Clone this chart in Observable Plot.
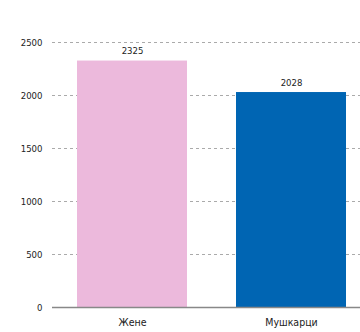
<!DOCTYPE html>
<html><head><meta charset="utf-8">
<script src="https://cdn.jsdelivr.net/npm/d3@7"></script>
<script src="https://cdn.jsdelivr.net/npm/@observablehq/plot@0.6"></script>
<style>body{margin:0;background:#fff}</style>
</head><body><div id="chart"></div>
<script>
const categories = ["Жене", "Мушкарци"];
const values = [2325, 2028];
const colors = ["#ecb9dc", "#0065b3"];
const yTicks = [0, 500, 1000, 1500, 2000, 2500];

const data = categories.map((c, i) => ({cat: c, v: values[i], color: colors[i]}));
const font = "'DejaVu Sans Condensed', 'Liberation Sans Narrow', Arial, sans-serif";

const chart = Plot.plot({
  width: 360, height: 332,
  marginLeft: 52, marginRight: 0, marginTop: 42, marginBottom: 25,
  style: {fontFamily: font, fontSize: "10px", color: "#333", background: "#fff"},
  x: {domain: categories, range: [52, 371], paddingInner: 0.31, paddingOuter: 0.155, align: 0.5, label: null},
  y: {domain: [0, 2500], label: null},
  marks: [
    Plot.ruleY(yTicks.filter(d => d > 0), {stroke: "#aaa", strokeDasharray: "3,3", strokeWidth: 1}),
    Plot.barY(data, {x: "cat", y: "v", fill: "color"}),
    Plot.ruleY([0], {stroke: "#888", strokeWidth: 1.5}),
    Plot.text(data, {x: "cat", y: "v", text: d => String(d.v), dy: -10, fontSize: 9.5, fill: "#222"}),
    Plot.axisX({tickSize: 0, tickPadding: 11, fontSize: 10.5, fill: "#222", label: null}),
    Plot.axisY({ticks: yTicks, tickFormat: d => String(d), tickSize: 0, tickPadding: 10, fontSize: 9.5, fill: "#222", label: null})
  ]
});
document.getElementById("chart").appendChild(chart);
</script></body></html>
